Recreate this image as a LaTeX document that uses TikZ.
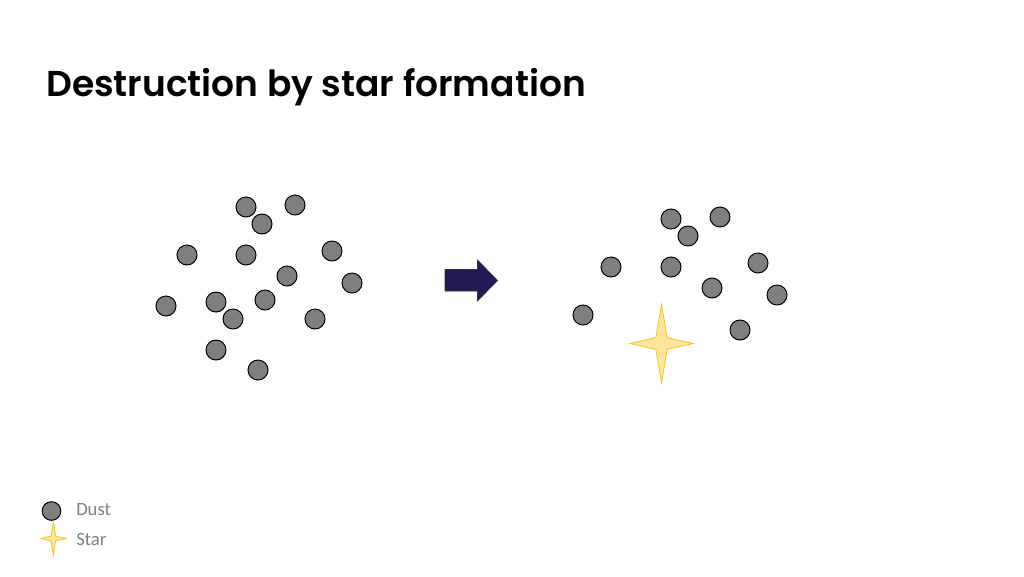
\documentclass[tikz,border=0pt]{standalone}
\usepackage{fontspec}
\setmainfont{Carlito}
\newfontfamily\titlefont{Poppins}[BoldFont={Poppins SemiBold}]
\usetikzlibrary{positioning,calc}
\definecolor{dustgray}{HTML}{7F7F7F}
\definecolor{starfill}{HTML}{FFE699}
\definecolor{stardraw}{HTML}{F2C230}
\definecolor{arrownavy}{HTML}{211A55}
\definecolor{legendgray}{HTML}{808080}
\tikzstyle{dust} = [circle, draw=black, line width=0.75pt, fill=dustgray, minimum size=15pt, inner sep=0pt]
\tikzstyle{starshape} = [draw=stardraw, fill=starfill, line width=0.6pt, line join=miter]
\tikzstyle{legendtext} = [anchor=west, text=legendgray, font=\fontsize{14}{14}\selectfont, inner sep=0pt]
\newcommand{\fourstar}[4]{% centre x, centre y, half width, half height
\filldraw[starshape] (#1,#2-#4) -- (#1+0.18*#3,#2-0.15*#4) -- (#1+#3,#2) -- (#1+0.18*#3,#2+0.15*#4) -- (#1,#2+#4) -- (#1-0.18*#3,#2+0.15*#4) -- (#1-#3,#2) -- (#1-0.18*#3,#2-0.15*#4) -- cycle;}
\begin{document}
\begin{tikzpicture}[x=0.75pt,y=-0.75pt]
\useasboundingbox (0,0) rectangle (1024,576);
\node (title) [anchor=base west, inner sep=0pt, font=\titlefont\bfseries\fontsize{27}{27}\selectfont] at (46,96) {Destruction by star formation};
% before
\node[dust] (b1) at (246,207) {};
\node[dust] (b2) at (262,224) {};
\node[dust] (b3) at (295,205) {};
\node[dust] (b4) at (187,255) {};
\node[dust] (b5) at (246,255) {};
\node[dust] (b6) at (332,251) {};
\node[dust] (b7) at (287,276) {};
\node[dust] (b8) at (352,283) {};
\node[dust] (b9) at (166,306) {};
\node[dust] (b10) at (216,302) {};
\node[dust] (b11) at (265,300) {};
\node[dust] (b12) at (233,319) {};
\node[dust] (b13) at (315,319) {};
\node[dust] (b14) at (216,350) {};
\node[dust] (b15) at (258,370) {};
% arrow
\filldraw[fill=arrownavy, draw=black!80, line width=0.5pt] (445,269.5) -- (477.5,269.5) -- (477.5,260) -- (497.5,280.5) -- (477.5,301) -- (477.5,291) -- (445,291) -- cycle;
% after
\node[dust] (a1) at (671,219) {};
\node[dust] (a2) at (720,217) {};
\node[dust] (a3) at (688,236) {};
\node[dust] (a4) at (611,267) {};
\node[dust] (a5) at (671,267) {};
\node[dust] (a6) at (758,263) {};
\node[dust] (a7) at (712,288) {};
\node[dust] (a8) at (777,295) {};
\node[dust] (a9) at (583,315) {};
\node[dust] (a10) at (740,330) {};
\fourstar{661.5}{343.5}{31.5}{39}
% legend
\node[dust, minimum size=14pt] (ldust) at (51.5,511) {};
\fourstar{53.3}{538.5}{12.7}{16.5}
\node[legendtext] (tdust) at (76,510) {Dust};
\node[legendtext] (tstar) at (76,539.5) {Star};
\end{tikzpicture}
\end{document}
